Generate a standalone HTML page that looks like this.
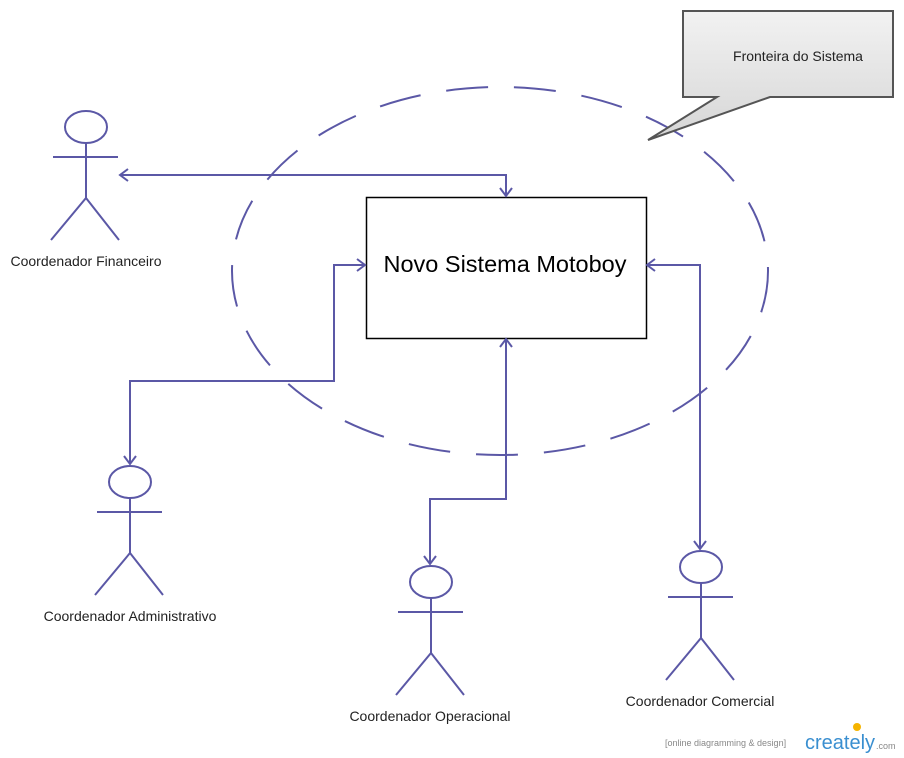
<!DOCTYPE html>
<html><head><style>body{margin:0;background:#fff}svg{display:block}</style></head><body>
<svg width="904" height="758" xmlns="http://www.w3.org/2000/svg" font-family="Liberation Sans, sans-serif">
<defs><linearGradient id="g" x1="0" y1="0" x2="0" y2="1"><stop offset="0" stop-color="#f2f2f2"/><stop offset="1" stop-color="#d6d6d6"/></linearGradient>
<g id="a"><ellipse cx="0" cy="17" rx="21" ry="16"/><line x1="0" y1="33" x2="0" y2="88"/><line x1="-33" y1="47" x2="32" y2="47"/><polyline points="-35,130 0,88 33,130"/></g>
</defs>
<ellipse cx="500" cy="271" rx="268" ry="184" fill="none" stroke="#5b58a6" stroke-width="2" stroke-dasharray="42 26"/>
<rect x="366.5" y="197.5" width="280" height="141" fill="#fff" stroke="#000" stroke-width="1.5"/>
<text x="505" y="272" font-size="23.5" text-anchor="middle">Novo Sistema Motoboy</text>
<g fill="none" stroke="#5b58a6" stroke-width="2">
<polyline points="120,175 506,175 506,196"/><polyline points="128,169 120,175 128,181"/><polyline points="500,188 506,196 512,188"/>
<polyline points="365,265 334,265 334,381 130,381 130,464"/><polyline points="357,259 365,265 357,271"/><polyline points="124,456 130,464 136,456"/>
<polyline points="506,339 506,499 430,499 430,564"/><polyline points="500,347 506,339 512,347"/><polyline points="424,556 430,564 436,556"/>
<polyline points="647,265 700,265 700,549"/><polyline points="655,259 647,265 655,271"/><polyline points="694,541 700,549 706,541"/>
<use href="#a" x="86" y="110"/><use href="#a" x="130" y="465"/><use href="#a" x="431" y="565"/><use href="#a" x="701" y="550"/>
</g>
<g font-size="14" fill="#222" text-anchor="middle">
<text x="86" y="266">Coordenador Financeiro</text>
<text x="130" y="621">Coordenador Administrativo</text>
<text x="430" y="721">Coordenador Operacional</text>
<text x="700" y="706">Coordenador Comercial</text>
</g>
<path d="M683,11 H893 V97 H770 L648,140 L717,97 H683 Z" fill="url(#g)" stroke="#555" stroke-width="2"/>
<text x="798" y="61" font-size="14" text-anchor="middle" fill="#222">Fronteira do Sistema</text>
<text x="665" y="746" font-size="9" fill="#888">[online diagramming &amp; design]</text>
<text x="805" y="749" font-size="20" fill="#3a8fd0">creately</text>
<text x="876" y="749" font-size="9" fill="#888">.com</text>
<circle cx="857" cy="727" r="4" fill="#f5b400"/>
</svg>
</body></html>
